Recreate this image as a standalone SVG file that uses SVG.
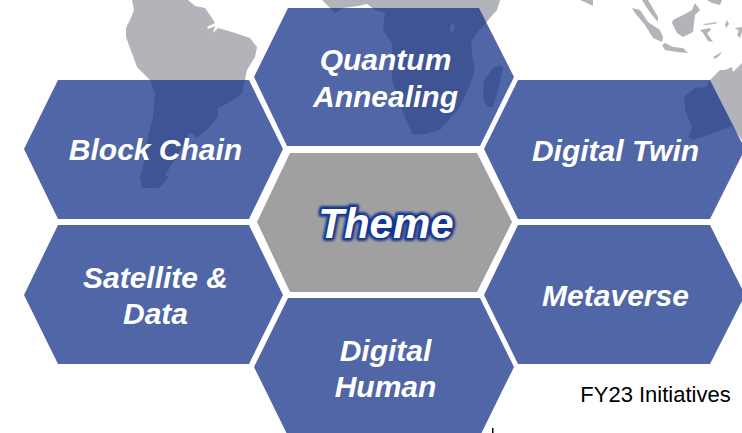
<svg xmlns="http://www.w3.org/2000/svg" width="742" height="433" viewBox="0 0 742 433">
<defs>
<filter id="glow" x="-20%" y="-30%" width="140%" height="160%"><feGaussianBlur stdDeviation="1"/></filter>
</defs>
<style>
.map{fill:#b3b4b9;stroke:none;stroke-linejoin:round}
.hex{fill:#19368a;fill-opacity:.76}
.lbl{font-family:"Liberation Sans",Arial,sans-serif;font-weight:bold;font-style:italic;font-size:30px;fill:#fff;text-anchor:middle}
</style>
<rect width="742" height="433" fill="#fff"/>
<g id="map">
<path class="map" d="M132,0L188,0L195,6L205,8L210,15L215,23L207,27L208,29L215,26L213,33L218,28L232,32L250,38L257,47L255,57L247,70L245,80L242,93L233,100L218,108L218,117L207,130L197,138L190,132L175,160L165,175L169,177L159,188L142,188L140,177L143,167L148,137L153,117L155,93L150,80L137,67L130,48L126,37L126,28L130,20L134,10Z"/>
<path fill-rule="evenodd" class="map" d="M322,0L500,0L497,10L490,18L478,32L471,42L472,53L475,70L470,85L460,107L440,130L425,134L413,135L403,113L392,80L392,43L383,30L385,13L375,10L367,4L358,6L343,8L335,13L330,8ZM451,24L455,25L453,32L450,31Z"/>
<path class="map" d="M500,65L493,68L484,80L483,97L487,107L493,107L500,83L503,68Z"/>
<path class="map" d="M580,0L593,0L593,6L587,3Z"/>
<path class="map" d="M632,8L640,10L648,22L660,30L663,37L662,42L653,38L645,25L635,13Z"/>
<path class="map" d="M642,0L648,0L658,17L658,22L652,15L645,5Z"/>
<path class="map" d="M695,3L700,10L695,15L693,32L683,37L677,33L672,23L673,20L687,13L692,10Z"/>
<path class="map" d="M662,45L665,43L673,47L683,48L688,53L677,52L665,50Z"/>
<path class="map" d="M703,24L718,22L715,24L705,25Z"/>
<path class="map" d="M700,30L710,28L711,30L707,33L713,42L708,41L703,33Z"/>
<path class="map" d="M727,20L729,24L726,28L725,25Z"/>
<path class="map" d="M735,28L742,27L742,32L740,38L737,35L739,31Z"/>
<path class="map" d="M707,0L722,0L720,5L712,3Z"/>
<path class="map" d="M713,57L722,52L720,55L715,59Z"/>
<path class="map" d="M710,80L720,70L725,70L732,67L733,72L742,63L742,140L732,126L713,133L693,140L688,137L692,127L685,110L684,97L690,92L695,88L706,87Z"/>
</g>
<g id="connectors"/>
<g id="node-quantum"><polygon class="hex" points="288,8 479,8 514,77 480,146 287,146 254,77"/><text class="lbl" x="385.500" y="70">Quantum</text><text class="lbl" x="385.500" y="107">Annealing</text></g>
<g id="node-block"><polygon class="hex" points="58,80 249,80 283,149 249,219 58,219 24,149"/><text class="lbl" x="155.500" y="160">Block Chain</text></g>
<g id="node-twin"><polygon class="hex" points="518,80 710,80 745,149 710,219 518,219 484,149"/><text class="lbl" x="615.500" y="160.500">Digital Twin</text></g>
<g id="node-theme"><polygon points="290,153 477,153 512,222 477,292 290,292 257,222" fill="#a0a0a0"/>
<text x="386" y="238" font-family="Liberation Sans,Arial,sans-serif" font-weight="bold" font-style="italic" font-size="42" text-anchor="middle" fill="#153490" stroke="#153490" stroke-width="6" stroke-linejoin="round" filter="url(#glow)" aria-hidden="true">Theme</text>
<text x="386" y="238" font-family="Liberation Sans,Arial,sans-serif" font-weight="bold" font-style="italic" font-size="42" text-anchor="middle" fill="#fff">Theme</text></g>
<g id="node-satellite"><polygon class="hex" points="58,225 249,225 283,295 249,364 58,364 24,295"/><text class="lbl" x="155.500" y="288">Satellite &amp;</text><text class="lbl" x="155.500" y="324">Data</text></g>
<g id="node-metaverse"><polygon class="hex" points="518,225 710,225 745,295 710,364 518,364 484,295"/><text class="lbl" x="615.500" y="305.500">Metaverse</text></g>
<g id="node-human"><polygon class="hex" points="288,298 480,298 514,367 480,436 288,436 254,367"/><text class="lbl" x="385.500" y="361">Digital</text><text class="lbl" x="385.500" y="397">Human</text></g>
<g id="caption"><text x="655.500" y="402" font-family="Liberation Sans,Arial,sans-serif" font-size="22" text-anchor="middle" fill="#000">FY23 Initiatives</text><rect x="492" y="428" width="1.500" height="5" fill="#000"/></g>
</svg>
